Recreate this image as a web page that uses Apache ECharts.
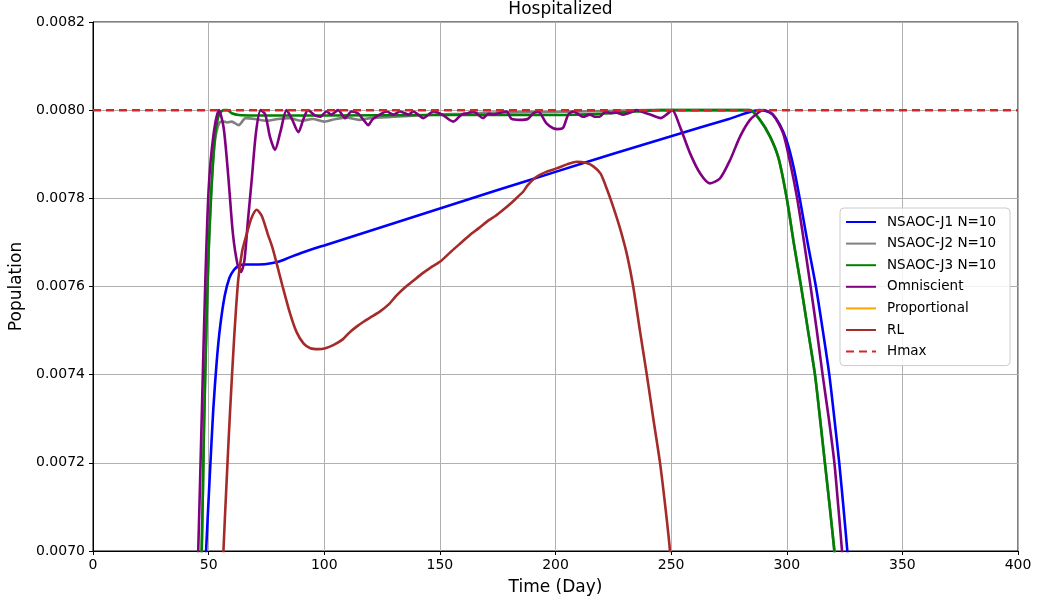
<!DOCTYPE html>
<html>
<head>
<meta charset="utf-8">
<script src="https://cdn.jsdelivr.net/npm/echarts@6/dist/echarts.min.js"></script>
<style>html,body{margin:0;padding:0;background:#fff}#c{width:1037px;height:605px}</style>
</head>
<body>
<div id="c"></div>
<script>
// ---- data (day, population) ----
const xTicks = [0, 50, 100, 150, 200, 250, 300, 350, 400];
const yTicks = [0.0070, 0.0072, 0.0074, 0.0076, 0.0078, 0.0080, 0.0082];
const legendNames = ['NSAOC-J1 N=10', 'NSAOC-J2 N=10', 'NSAOC-J3 N=10', 'Omniscient', 'Proportional', 'RL', 'Hmax'];

const j1 = [[48,0.00688],[48.9,0.0070],[50.5,0.00717],[52,0.00732],[53.5,0.00743],[55,0.00751],[57,0.00758],[59,0.00762],[61,0.007638],[63,0.007647],[66,0.00765],[70,0.00765],[75,0.007651],[80,0.007656],[85,0.007666],[90,0.007676],[95,0.007685],[100,0.007693],[125,0.007735],[150,0.007777],[175,0.007819],[200,0.00786],[225,0.007901],[250,0.007941],[275,0.00798],[288,0.0080],[291,0.007998],[294,0.00799],[297,0.007967],[300,0.00793],[303,0.00787],[305.6,0.0078],[309,0.00770],[312.6,0.0076],[315.6,0.0075],[318.4,0.0074],[320.6,0.0073],[322.7,0.0072],[324.5,0.0071],[326.2,0.0070],[327,0.00695]];

const j2 = [[46,0.0069],[47,0.0070],[48,0.00728],[49,0.0075],[50,0.00768],[51,0.0078],[52,0.00789],[53,0.00794],[54.5,0.00797],[56,0.007975],[58,0.007972],[60,0.007974],[63,0.007966],[66,0.007982],[70,0.00798],[75,0.007976],[80,0.00798],[85,0.007982],[90,0.007976],[95,0.00798],[100,0.007974],[105,0.00798],[110,0.007983],[115,0.007978],[120,0.007982],[130,0.007985],[140,0.007988],[150,0.00799],[160,0.007992],[170,0.007994],[180,0.007995],[200,0.007996],[220,0.007998],[240,0.0080],[284,0.0080],[288.4,0.007978],[292.8,0.00794],[296.5,0.00789],[300,0.0078],[303,0.0077],[306.2,0.0076],[309.2,0.0075],[312.2,0.0074],[314.4,0.0073],[316.5,0.0072],[318.6,0.0071],[320.6,0.0070],[321.5,0.00695]];

const j3 = [[46,0.0069],[47,0.0070],[48,0.00728],[49,0.0075],[50,0.00768],[51,0.0078],[52,0.00789],[53,0.00795],[54.5,0.00799],[56.5,0.0080],[58,0.0080],[60,0.007993],[63,0.007989],[70,0.007988],[100,0.007988],[150,0.007989],[200,0.007989],[220,0.007992],[235,0.007997],[245,0.0080],[284,0.0080],[288.4,0.007978],[292.8,0.00794],[296.5,0.00789],[300,0.0078],[303,0.0077],[306.2,0.0076],[309.2,0.0075],[312.2,0.0074],[314.4,0.0073],[316.5,0.0072],[318.6,0.0071],[320.6,0.0070],[321.5,0.00695]];

const omni = [[44.8,0.0069],[45.5,0.0070],[47,0.0073],[48.5,0.0076],[50,0.00782],[52,0.00794],[54.5,0.0080],[56.5,0.00796],[58.5,0.00785],[60.5,0.00772],[62.5,0.00765],[64,0.007633],[65.5,0.00766],[67,0.00775],[68.6,0.00784],[70.5,0.00795],[72.5,0.0080],[74.5,0.00799],[76.5,0.00794],[78.7,0.00791],[81,0.00795],[83.7,0.0080],[86,0.00798],[88.8,0.00795],[91,0.00798],[93,0.0080],[96,0.007988],[98.2,0.007985],[101,0.007997],[103,0.00799],[106,0.0080],[109,0.007982],[111.8,0.007997],[114.5,0.007993],[117.6,0.007974],[119,0.007966],[121,0.00798],[124,0.00799],[127,0.007997],[129.9,0.00799],[132.7,0.007997],[136.4,0.00799],[138.5,0.007997],[142.8,0.007982],[147.2,0.007997],[151,0.00799],[155.8,0.007974],[159.4,0.00799],[162,0.007993],[164.4,0.007997],[168.7,0.007982],[171,0.007992],[173,0.00799],[176,0.007994],[178.8,0.007997],[181,0.00798],[184.6,0.007978],[188,0.00798],[190.4,0.007993],[192.5,0.007997],[196.1,0.00797],[199,0.007959],[201,0.007957],[203.3,0.00796],[205.5,0.00799],[207.7,0.007997],[212,0.007985],[214.9,0.00799],[217,0.007985],[219,0.007985],[221.7,0.007997],[224,0.007993],[226,0.007995],[229.3,0.00799],[232,0.007994],[235,0.0080],[238,0.007995],[241,0.00799],[245.5,0.007982],[248,0.00799],[250.5,0.0080],[253.8,0.007963],[258.2,0.007902],[262.5,0.007857],[266.8,0.007834],[271.1,0.007845],[275.5,0.007887],[279.8,0.00794],[284.1,0.007978],[288.4,0.007997],[290,0.0080],[294,0.00799],[298.4,0.007948],[301.5,0.00788],[304.5,0.0078],[307.5,0.0077],[310.3,0.0076],[313,0.0075],[315.5,0.0074],[318.2,0.0073],[320.6,0.0072],[322.3,0.0071],[323.9,0.0070],[324.6,0.00695]];

const proportional = [];

const rl = [[55.8,0.0069],[56.4,0.0070],[57.8,0.00716],[59.2,0.00731],[61,0.00748],[62.8,0.007615],[64.5,0.00768],[66.5,0.00772],[68.5,0.007755],[70.8,0.007774],[73,0.00776],[75.5,0.00772],[77.5,0.00769],[79.4,0.007653],[82,0.0076],[85.2,0.007539],[88,0.007497],[91,0.007471],[94,0.00746],[97.5,0.007458],[100.5,0.00746],[103.9,0.007467],[108,0.00748],[111,0.007496],[114,0.007509],[117,0.00752],[120,0.00753],[124,0.007543],[128,0.00756],[131,0.007578],[134.5,0.007596],[138.5,0.007613],[142,0.007628],[146,0.007643],[150,0.007656],[155,0.00768],[160,0.007703],[163,0.007717],[167,0.007733],[171,0.00775],[174,0.00776],[177.4,0.007774],[181,0.00779],[184,0.007805],[186,0.007815],[188,0.00783],[191.8,0.007849],[196,0.00786],[200.5,0.007868],[205,0.007877],[209.1,0.007883],[213.4,0.00788],[216.5,0.007872],[219.5,0.007856],[222.3,0.00782],[225,0.00778],[228,0.00773],[231,0.00767],[233.6,0.0076],[236.5,0.0075],[239.4,0.007403],[242.3,0.0073],[245.2,0.0072],[247.5,0.0071],[249.5,0.0070],[250.5,0.0069]];

const hmax = [[0,0.0080],[400,0.0080]];

const FONT = 'DejaVu Sans';
const chart = echarts.init(document.getElementById('c'), null, {renderer: 'canvas'});

function line(name, data, color, extra) {
  return Object.assign({
    name, type: 'line', data, symbol: 'none', smooth: 0.25,
    clip: true, animation: false,
    lineStyle: {color, width: 2.6}, itemStyle: {color}
  }, extra || {});
}

chart.setOption({
  animation: false,
  backgroundColor: '#fff',
  title: {
    text: 'Hospitalized', left: 555.5, textAlign: 'center', top: -4,
    textStyle: {fontFamily: FONT, fontSize: 17, fontWeight: 'normal', color: '#000'}
  },
  grid: {left: 93, right: 19, top: 22, bottom: 54, show: true, borderColor: '#000', borderWidth: 1, backgroundColor: 'transparent'},
  legend: {
    orient: 'vertical', left: 840, top: 208,
    data: legendNames,
    itemWidth: 30, itemHeight: 14, itemGap: 7.6,
    padding: [7, 14, 7, 5],
    itemStyle: {opacity: 0, borderWidth: 0},
    borderColor: '#cccccc', borderWidth: 1, borderRadius: 4, backgroundColor: 'rgba(255,255,255,0.85)',
    textStyle: {fontFamily: FONT, fontSize: 13.5, color: '#000', padding: [0, 0, 0, 6]}
  },
  xAxis: {
    type: 'value', min: 0, max: 400, interval: 50,
    name: 'Time (Day)', nameLocation: 'middle', nameGap: 28,
    nameTextStyle: {fontFamily: FONT, fontSize: 17, color: '#000'},
    axisLine: {show: true, onZero: false, lineStyle: {color: '#000', width: 1}},
    axisTick: {show: true, length: 4, lineStyle: {color: '#000'}},
    axisLabel: {fontFamily: FONT, fontSize: 14, color: '#000', margin: 7,
      formatter: v => xTicks.includes(v) ? String(v) : ''},
    splitLine: {show: true, lineStyle: {color: '#b0b0b0', width: 1}}
  },
  yAxis: {
    type: 'value', min: 0.0070, max: 0.0082, interval: 0.0002,
    name: 'Population', nameLocation: 'middle', nameGap: 68,
    nameTextStyle: {fontFamily: FONT, fontSize: 17, color: '#000'},
    axisLine: {show: true, onZero: false, lineStyle: {color: '#000', width: 1}},
    axisTick: {show: true, length: 4, lineStyle: {color: '#000'}},
    axisLabel: {fontFamily: FONT, fontSize: 14, color: '#000', margin: 8,
      formatter: v => {
        const t = yTicks.find(y => Math.abs(y - v) < 1e-9);
        return t !== undefined ? t.toFixed(4) : '';
      }},
    splitLine: {show: true, lineStyle: {color: '#b0b0b0', width: 1}}
  },
  series: [
    line('NSAOC-J1 N=10', j1, '#0000ff'),
    line('NSAOC-J2 N=10', j2, '#808080'),
    line('NSAOC-J3 N=10', j3, '#008000'),
    line('Omniscient', omni, '#800080'),
    line('Proportional', proportional, '#ffa500'),
    line('RL', rl, '#a52a2a'),
    line('Hmax', hmax, '#d62728', {smooth: false, lineStyle: {color: '#d62728', width: 2.5, type: [8, 5]}})
  ]
});
</script>
</body>
</html>
